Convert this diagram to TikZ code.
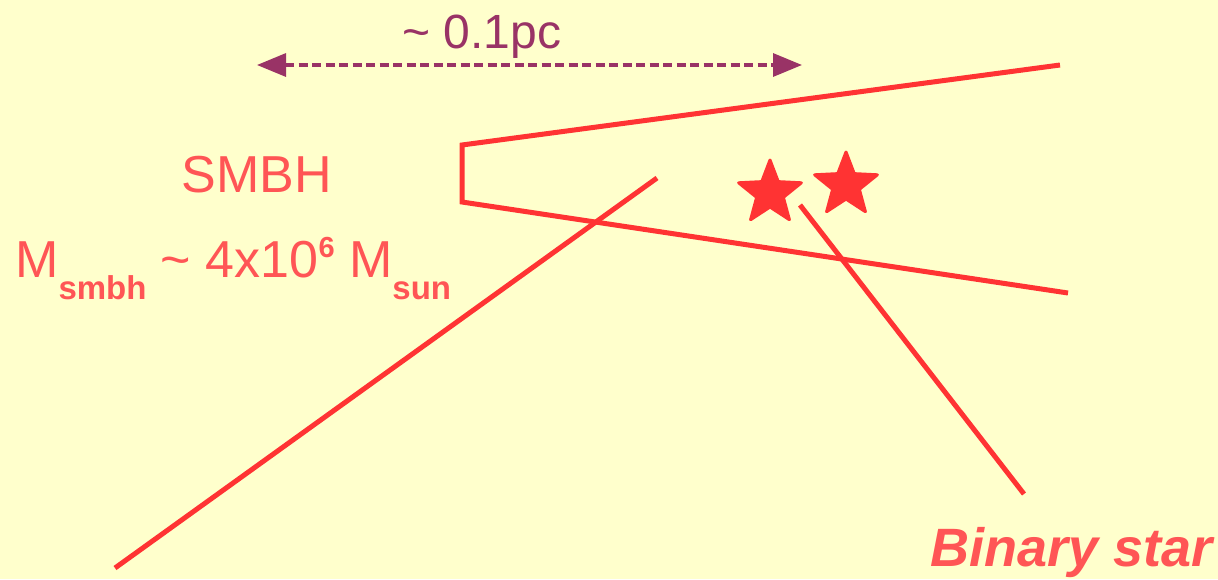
\documentclass[tikz,border=0pt]{standalone}
\usepackage{fontspec}
\setmainfont{Liberation Sans}
\usetikzlibrary{shapes.geometric,arrows.meta}
\definecolor{bg}{HTML}{FFFFCC}
\definecolor{linered}{HTML}{FF3333}
\definecolor{txtred}{HTML}{FF5555}
\definecolor{plum}{HTML}{993366}
\tikzset{
  redline/.style={draw=linered, line width=5pt},
  scalearrow/.style={draw=plum, line width=3.3pt, dash pattern=on 9pt off 4.5pt,
    {Triangle[length=29pt,width=23pt]}-{Triangle[length=29pt,width=23pt]}},
  redtext/.style={text=txtred, inner sep=0pt},
  starshape/.style={star, star points=5, star point ratio=2.35, fill=linered, draw=linered,
    line width=3pt, line join=round, minimum size=66pt, inner sep=0pt}
}
\begin{document}
\begin{tikzpicture}[x=1pt,y=-1pt]
\fill[bg] (0,0) rectangle (1218,579);
\useasboundingbox (0,0) rectangle (1218,579);

% scale arrow
\coordinate (aL) at (257,65);
\coordinate (aR) at (802,65);
\draw[scalearrow] (aL) -- (aR);
\node[text=plum, inner sep=0pt, anchor=base, font=\fontsize{48}{56}\selectfont] (scale) at (482,48) {\textasciitilde{} 0.1pc};

% cone
\coordinate (c1) at (1060,65);
\coordinate (c2) at (462,145);
\coordinate (c3) at (462,202);
\coordinate (c4) at (1068,293);
\draw[redline, line join=miter] (c1) -- (c2) -- (c3) -- (c4);

% long line
\coordinate (l1) at (657,178);
\coordinate (l2) at (115,568);
\draw[redline] (l1) -- (l2);

% stars
\node[starshape] (s1) at (770,193) {};
\node[starshape] (s2) at (846,185) {};

% binary star pointer
\coordinate (p1) at (800,205);
\coordinate (p2) at (1024,494);
\draw[redline] (p1) -- (p2);
\node[redtext, anchor=base east, font=\fontsize{54}{60}\selectfont\bfseries\itshape] (bin) at (1213,566) {Binary star};

% SMBH text
\node[redtext, anchor=base, font=\fontsize{52}{60}\selectfont] (smbh) at (257,192) {SMBH};
\node[redtext, anchor=base west, font=\fontsize{52}{60}\selectfont] (mass) at (15,277)
 {M\raisebox{-22pt}{\fontsize{33}{33}\selectfont\bfseries smbh} \textasciitilde{} 4x10\raisebox{20pt}{\fontsize{29}{29}\selectfont\bfseries 6} M\raisebox{-22pt}{\fontsize{33}{33}\selectfont\bfseries sun}};
\end{tikzpicture}
\end{document}
